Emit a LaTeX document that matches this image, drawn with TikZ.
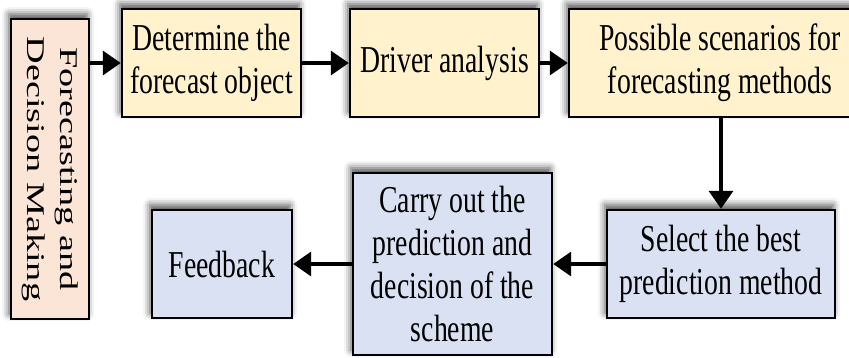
\documentclass[tikz,border=0pt]{standalone}
\usepackage{fontspec}
\setmainfont{Liberation Serif}[FakeStretch=0.73]
\newfontfamily\sidefont{Liberation Serif}[FakeStretch=1.5]
\usetikzlibrary{arrows.meta,shadows.blur}

\definecolor{peachfill}{HTML}{FBE5D6}
\definecolor{creamfill}{HTML}{FFF2CC}
\definecolor{bluefill}{HTML}{DAE1F3}

\tikzset{
  box/.style={draw=black, line width=2.4pt, inner sep=0pt, align=center,
    font=\fontsize{38}{43}\selectfont,
    blur shadow={shadow xshift=-2pt, shadow yshift=5pt,
      shadow blur radius=7pt, shadow opacity=70}},
  peachbox/.style={box, fill=peachfill},
  creambox/.style={box, fill=creamfill},
  bluebox/.style={box, fill=bluefill},
  flow/.style={line width=3.4pt, -{Triangle[length=18pt,width=24pt]}},
}

\begin{document}
\begin{tikzpicture}[x=1pt, y=-1pt]
  \useasboundingbox (0,0) rectangle (849,357);

  % side banner
  \node[peachbox, minimum width=78pt, minimum height=300pt] (side) at (50,169) {};
  \node[rotate=-90, align=center, inner sep=0pt,
        font=\sidefont\fontsize{25.5}{33}\selectfont] (sidetext) at (side.center)
    {Forecasting and\\Decision Making};

  % top row
  \node[creambox, minimum width=179pt, minimum height=108pt] (object) at (211.5,63)
    {Determine the\\forecast object};
  \node[creambox, minimum width=189pt, minimum height=108pt] (driver) at (444.5,63)
    {Driver analysis};
  \node[creambox, minimum width=302pt, minimum height=108pt] (scen) at (720,63)
    {Possible scenarios for\\forecasting methods};

  % bottom row
  \node[bluebox, minimum width=228pt, minimum height=108pt] (select) at (721,264)
    {Select the best\\prediction method};
  \node[bluebox, minimum width=199pt, minimum height=182pt] (carry) at (452.5,264)
    {Carry out the\\prediction and\\decision of the\\scheme};
  \node[bluebox, minimum width=140pt, minimum height=108pt] (feedback) at (222,264)
    {Feedback};

  % connectors
  \draw[flow] (object.west -| side.east) -- (object.west);
  \draw[flow] (object.east) -- (driver.west);
  \draw[flow] (driver.east) -- (scen.west);
  \draw[flow] (scen.south -| select.north) -- (select.north);
  \draw[flow] (select.west) -- (carry.east);
  \draw[flow] (carry.west) -- (feedback.east);
\end{tikzpicture}
\end{document}
